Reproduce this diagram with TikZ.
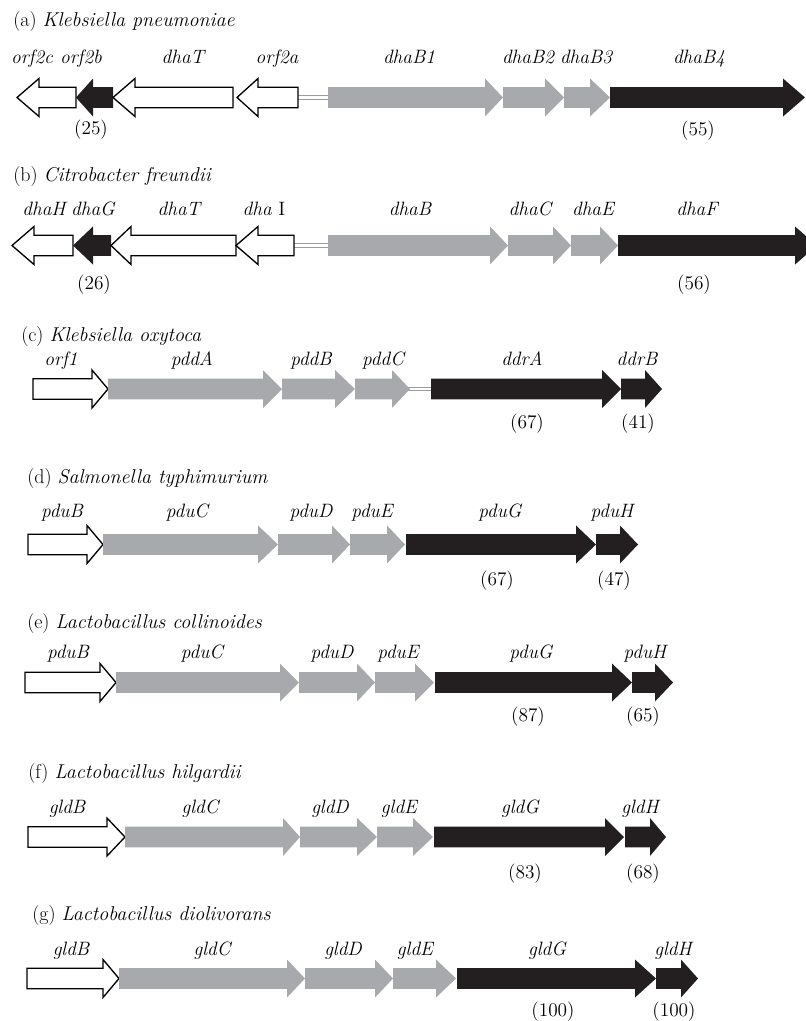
\documentclass[tikz,border=0pt]{standalone}
\usepackage{tikz}
\definecolor{genegray}{HTML}{A7A9AC}
\definecolor{geneblack}{HTML}{231F20}
\definecolor{spacergray}{HTML}{9A9C9F}
\tikzset{
  openorf/.style={draw=black, fill=white, line width=1pt, line join=miter},
  grayorf/.style={fill=genegray},
  darkorf/.style={fill=geneblack},
  spacer/.style={draw=spacergray, line width=0.6pt, double=white, double distance=2.2pt},
  strain/.style={anchor=base west, inner sep=0pt, font=\fontsize{15}{18}\selectfont},
  genename/.style={anchor=base, inner sep=0pt, font=\fontsize{14.5}{17}\selectfont\itshape},
  identity/.style={anchor=base, inner sep=0pt, font=\fontsize{14.5}{17}\selectfont},
}
% gene arrow: style, tail x, head-base x, tip x, centre y
\newcommand\genearrow[5]{%
  \path[#1] (#2,{#5-10.3}) -- (#3,{#5-10.3}) -- (#3,{#5-19}) -- (#4,#5)
    -- (#3,{#5+19}) -- (#3,{#5+10.3}) -- (#2,{#5+10.3}) -- cycle;}
\begin{document}
\begin{tikzpicture}[x=0.75pt,y=-0.75pt]
\clip (0,0) rectangle (806,1021);
\fill[white] (0,0) rectangle (806,1021);

% ---------------- (a) Klebsiella pneumoniae
\node[strain] (ta) at (13,26.5) {(a) \textit{Klebsiella pneumoniae}};
\coordinate (spAleft) at (296,97.5);
\coordinate (spAright) at (330,97.5);
\draw[spacer] (spAleft) -- (spAright);
\genearrow{openorf}{76}{39}{17}{97.5}
\genearrow{darkorf}{113}{93}{76}{97.5}
\genearrow{openorf}{233}{135}{113}{97.5}
\genearrow{openorf}{298}{258}{237}{97.5}
\genearrow{grayorf}{328}{485}{503}{97.5}
\genearrow{grayorf}{503}{545}{564}{97.5}
\genearrow{grayorf}{564}{590}{610}{97.5}
\genearrow{darkorf}{610}{783}{805}{97.5}
\node[genename] (a1) at (32,63) {orf2c};
\node[genename] (a2) at (81,63) {orf2b};
\node[genename] (a3) at (183,63) {dhaT};
\node[genename] (a4) at (277,63) {orf2a};
\node[genename] (a5) at (409,63) {dhaB1};
\node[genename] (a6) at (528,63) {dhaB2};
\node[genename] (a7) at (586,63) {dhaB3};
\node[genename] (a8) at (699,63) {dhaB4};
\node[identity] (an1) at (91,134) {(25)};
\node[identity] (an2) at (698,135) {(55)};

% ---------------- (b) Citrobacter freundii
\node[strain] (tb) at (13,181.7) {(b) \textit{Citrobacter freundii}};
\coordinate (spBleft) at (292,245.5);
\coordinate (spBright) at (330,245.5);
\draw[spacer] (spBleft) -- (spBright);
\genearrow{openorf}{73}{34}{12}{245.5}
\genearrow{darkorf}{111}{93}{73}{245.5}
\genearrow{openorf}{236}{131}{111}{245.5}
\genearrow{openorf}{294}{258}{236}{245.5}
\genearrow{grayorf}{328}{490}{508}{245.5}
\genearrow{grayorf}{508}{553}{571}{245.5}
\genearrow{grayorf}{571}{600}{618}{245.5}
\genearrow{darkorf}{618}{795}{817}{245.5}
\node[genename] (b1) at (44,215) {dhaH};
\node[genename] (b2) at (93,215) {dhaG};
\node[genename] (b3) at (179,215) {dhaT};
\node[genename] (b4) at (264,215) {dha\ \upshape I};
\node[genename] (b5) at (410,215) {dhaB};
\node[genename] (b6) at (530,215) {dhaC};
\node[genename] (b7) at (593,215) {dhaE};
\node[genename] (b8) at (697,215) {dhaF};
\node[identity] (bn1) at (94,289) {(26)};
\node[identity] (bn2) at (694,289) {(56)};

% ---------------- (c) Klebsiella oxytoca
\node[strain] (tc) at (21,341.7) {(c) \textit{Klebsiella oxytoca}};
\coordinate (spCleft) at (406,389);
\coordinate (spCright) at (433,389);
\draw[spacer] (spCleft) -- (spCright);
\genearrow{openorf}{33}{92}{108}{389}
\genearrow{grayorf}{108}{263}{282}{389}
\genearrow{grayorf}{282}{335}{355}{389}
\genearrow{grayorf}{355}{392}{410}{389}
\genearrow{darkorf}{431}{602}{621}{389}
\genearrow{darkorf}{621}{645}{662}{389}
\node[genename] (c1) at (61,365) {orf1};
\node[genename] (c2) at (192,365) {pddA};
\node[genename] (c3) at (311,365) {pddB};
\node[genename] (c4) at (383,365) {pddC};
\node[genename] (c5) at (522,365) {ddrA};
\node[genename] (c6) at (637,365) {ddrB};
\node[identity] (cn1) at (527,428) {(67)};
\node[identity] (cn2) at (638,428) {(41)};

% ---------------- (d) Salmonella typhimurium
\node[strain] (td) at (27,483) {(d) \textit{Salmonella typhimurium}};
\genearrow{openorf}{28}{87}{103}{544.5}
\genearrow{grayorf}{103}{258}{278}{544.5}
\genearrow{grayorf}{278}{332}{350}{544.5}
\genearrow{grayorf}{350}{387}{405}{544.5}
\genearrow{darkorf}{406}{576}{596}{544.5}
\genearrow{darkorf}{596}{620}{638}{544.5}
\node[genename] (d1) at (62,517) {pduB};
\node[genename] (d2) at (187,517) {pduC};
\node[genename] (d3) at (311,517) {pduD};
\node[genename] (d4) at (372,517) {pduE};
\node[genename] (d5) at (500,517) {pduG};
\node[genename] (d6) at (612,517) {pduH};
\node[identity] (dn1) at (497,585) {(67)};
\node[identity] (dn2) at (614,585) {(47)};

% ---------------- (e) Lactobacillus collinoides
\node[strain] (te) at (27,628) {(e) \textit{Lactobacillus collinoides}};
\genearrow{openorf}{25}{100}{116}{682.5}
\genearrow{grayorf}{116}{280}{299}{682.5}
\genearrow{grayorf}{299}{357}{375}{682.5}
\genearrow{grayorf}{375}{415}{434}{682.5}
\genearrow{darkorf}{435}{612}{632}{682.5}
\genearrow{darkorf}{632}{655}{673}{682.5}
\node[genename] (e1) at (68,658) {pduB};
\node[genename] (e2) at (202,658) {pduC};
\node[genename] (e3) at (332,658) {pduD};
\node[genename] (e4) at (398,658) {pduE};
\node[genename] (e5) at (531,658) {pduG};
\node[genename] (e6) at (645,658) {pduH};
\node[identity] (en1) at (528,721) {(87)};
\node[identity] (en2) at (643,721) {(65)};

% ---------------- (f) Lactobacillus hilgardii
\node[strain] (tf) at (28,778) {(f) \textit{Lactobacillus hilgardii}};
\genearrow{openorf}{28}{107}{125}{837}
\genearrow{grayorf}{125}{283}{300}{837}
\genearrow{grayorf}{300}{357}{377}{837}
\genearrow{grayorf}{377}{413}{433}{837}
\genearrow{darkorf}{434}{605}{624}{837}
\genearrow{darkorf}{625}{650}{666}{837}
\node[genename] (f1) at (67,813) {gldB};
\node[genename] (f2) at (200,813) {gldC};
\node[genename] (f3) at (330,813) {gldD};
\node[genename] (f4) at (399,813) {gldE};
\node[genename] (f5) at (520,813) {gldG};
\node[genename] (f6) at (640,813) {gldH};
\node[identity] (fn1) at (525,878) {(83)};
\node[identity] (fn2) at (643,878) {(68)};

% ---------------- (g) Lactobacillus diolivorans
\node[strain] (tg) at (32,920) {(g) \textit{Lactobacillus diolivorans}};
\genearrow{openorf}{27}{103}{119}{978.5}
\genearrow{grayorf}{119}{287}{305}{978.5}
\genearrow{grayorf}{305}{375}{393}{978.5}
\genearrow{grayorf}{393}{436}{456}{978.5}
\genearrow{darkorf}{457}{635}{656}{978.5}
\genearrow{darkorf}{656}{681}{698}{978.5}
\node[genename] (g1) at (71,955) {gldB};
\node[genename] (g2) at (212,955) {gldC};
\node[genename] (g3) at (343,955) {gldD};
\node[genename] (g4) at (415,955) {gldE};
\node[genename] (g5) at (547,955) {gldG};
\node[genename] (g6) at (673,955) {gldH};
\node[identity] (gn1) at (553,1016) {(100)};
\node[identity] (gn2) at (674,1016) {(100)};
\end{tikzpicture}
\end{document}
